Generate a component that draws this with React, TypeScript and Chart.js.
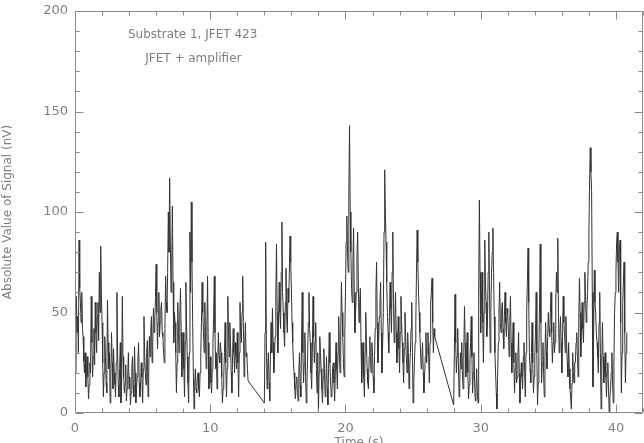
import React, { useEffect, useRef } from 'react';
import { Chart, registerables } from 'chart.js';

Chart.register(...registerables);

// Sampling
const sampleStep = 0.05; // seconds between samples

// Segment A: 0.0 s .. 12.8 s
const segAStart = 0.0;
const segAValues = [
  35, 20, 58, 40, 48, 30, 86, 62, 55, 45, 60, 42, 38, 26, 20, 30, 13, 22, 28, 18,
  7, 14, 25, 20, 58, 35, 18, 28, 42, 24, 55, 40, 30, 48, 55, 36, 70, 50, 83, 60,
  45, 25, 8, 20, 38, 28, 15, 10, 56, 35, 22, 30, 5, 18, 40, 25, 12, 32, 20, 14,
  8, 25, 60, 30, 14, 8, 22, 35, 5, 16, 58, 28, 18, 10, 15, 24, 6, 12, 20, 30,
  12, 18, 4, 10, 22, 28, 14, 8, 33, 20, 5, 12, 18, 26, 35, 15, 8, 14, 25, 18,
  5, 22, 48, 30, 20, 14, 30, 36, 8, 20, 38, 28, 40, 48, 25, 35, 52, 40, 45, 58,
  74, 50, 32, 45, 60, 38, 45, 52, 55, 40, 38, 30, 25, 42, 68, 55, 50, 70, 100, 80,
  117, 85, 60, 72, 103, 65, 35, 50, 45, 30, 10, 25, 55, 40, 30, 48, 62, 40, 18, 30,
  40, 22, 8, 35, 65, 45, 28, 15, 5, 30, 90, 60, 105, 75, 45, 20, 2, 14, 22, 12,
  10, 18, 20, 12, 8, 20, 30, 45, 65, 50, 40, 30, 55, 38, 22, 40, 68, 35, 12, 20,
  28, 15, 10, 22, 35, 48, 68, 40, 22, 30, 12, 25, 40, 28, 25, 35, 30, 18, 5, 12,
  18, 30, 45, 25, 8, 22, 58, 40, 28, 45, 35, 20, 10, 28, 42, 30, 20, 35, 28, 22,
  40, 25, 8, 30, 55, 40, 35, 50, 68, 45, 18, 32, 45, 28, 30, 22, 16,
];

// Segment B: 14.0 s .. 26.6 s
const segBStart = 14.0;
const segBValues = [
  5, 40, 85, 35, 12, 22, 30, 15, 6, 28, 45, 30, 52, 35, 20, 28, 38, 60, 84, 50,
  30, 45, 65, 50, 42, 70, 95, 60, 50, 40, 33, 55, 72, 48, 40, 62, 55, 70, 88, 75,
  62, 45, 35, 25, 20, 12, 7, 15, 18, 10, 6, 20, 30, 14, 8, 35, 60, 30, 15, 25,
  40, 18, 5, 15, 28, 45, 60, 42, 35, 20, 12, 30, 58, 38, 25, 35, 45, 22, 10, 30,
  0, 20, 38, 30, 22, 12, 5, 18, 32, 20, 8, 15, 28, 12, 4, 22, 40, 25, 15, 8,
  10, 22, 25, 15, 6, 20, 35, 22, 12, 30, 48, 30, 20, 40, 65, 50, 38, 25, 18, 40,
  60, 85, 98, 80, 70, 110, 143, 100, 80, 62, 55, 75, 92, 60, 40, 50, 60, 78, 90, 65,
  45, 55, 62, 35, 15, 25, 35, 18, 8, 30, 50, 35, 22, 15, 12, 28, 38, 25, 20, 35,
  30, 18, 10, 28, 42, 60, 75, 45, 25, 35, 48, 55, 65, 40, 20, 35, 50, 90, 121, 100,
  85, 65, 50, 40, 30, 48, 65, 52, 40, 70, 90, 55, 35, 45, 60, 40, 25, 35, 48, 32,
  20, 40, 58, 45, 35, 25, 15, 32, 50, 38, 28, 20, 40, 30, 12, 22, 30, 42, 55, 30,
  5, 15, 25, 35, 45, 70, 91, 75, 60, 50, 40, 30, 22, 28, 35, 20, 10, 18, 28, 40,
  25, 32, 40, 28, 15, 35, 55, 60, 67, 45, 30, 42, 38,
];

// Segment C: 28.0 s .. 40.8 s
const segCStart = 28.0;
const segCValues = [
  4, 30, 59, 35, 20, 28, 42, 25, 8, 15, 30, 22, 35, 18, 12, 30, 53, 35, 18, 25,
  40, 20, 7, 14, 25, 35, 48, 28, 10, 20, 30, 15, 6, 12, 22, 10, 5, 60, 106, 70,
  40, 55, 70, 45, 25, 50, 86, 65, 55, 38, 45, 70, 90, 60, 30, 50, 70, 80, 92, 70,
  48, 30, 20, 10, 2, 18, 35, 50, 65, 45, 40, 52, 55, 42, 32, 48, 60, 45, 38, 52,
  50, 40, 28, 45, 58, 35, 20, 32, 45, 25, 10, 22, 30, 15, 18, 28, 40, 20, 5, 15,
  25, 18, 12, 28, 35, 20, 8, 30, 50, 65, 82, 55, 30, 22, 15, 30, 45, 25, 10, 18,
  28, 40, 60, 30, 4, 15, 30, 55, 84, 45, 15, 25, 35, 20, 8, 28, 45, 30, 22, 38,
  50, 42, 38, 50, 60, 40, 25, 35, 45, 30, 35, 55, 70, 60, 87, 50, 30, 40, 48, 35,
  20, 38, 58, 45, 40, 30, 48, 35, 25, 18, 35, 22, 12, 8, 2, 15, 30, 20, 15, 25,
  25, 35, 40, 28, 18, 45, 67, 50, 28, 40, 55, 42, 35, 55, 70, 58, 45, 52, 60, 75,
  90, 115, 132, 120, 110, 60, 13, 40, 71, 55, 50, 40, 35, 28, 20, 45, 60, 30, 2, 25,
  45, 28, 15, 22, 30, 18, 8, 20, 25, 12, 0, 8, 12, 20, 30, 15, 5, 25, 50, 60,
  70, 85, 90, 75, 60, 80, 86, 45, 10, 30, 55, 65, 75, 40, 15, 30, 40,
];

const xTickValues = [0, 10, 20, 30, 40];
const yTickValues = [0, 50, 100, 150, 200];
const xMin = 0;
const xMax = 42;
const yMin = 0;
const yMax = 200;
const xMinorStep = 2;
const yMinorStep = 10;

const xTitle = 'Time (s)';
const yTitle = 'Absolute Value of Signal (nV)';
const noteLines = ['Substrate 1, JFET 423', 'JFET + amplifier'];
const notePositions = [
  { x: 8.7, y: 188 },
  { x: 8.75, y: 176 },
];

function buildPoints(start: number, values: number[]) {
  return values.map((v, i) => ({ x: Math.round((start + i * sampleStep) * 1000) / 1000, y: v }));
}

const allPoints = [
  ...buildPoints(segAStart, segAValues),
  ...buildPoints(segBStart, segBValues),
  ...buildPoints(segCStart, segCValues),
];

const GRAY = '#8a8a8a';
const TEXT = '#7f7f7f';
const FONT = '"DejaVu Sans", sans-serif';

const framePlugin = {
  id: 'frameTicks',
  afterDraw(chart: any) {
    const { ctx, chartArea: a, scales } = chart;
    const xs = scales.x;
    const ys = scales.y;
    ctx.save();
    ctx.strokeStyle = GRAY;
    ctx.lineWidth = 1;
    const L = Math.round(a.left) + 0.5;
    const R = Math.round(a.right) - 0.5;
    const T = Math.round(a.top) + 0.5;
    const B = Math.round(a.bottom) - 0.5;
    ctx.beginPath();
    ctx.rect(L, T, R - L, B - T);
    ctx.stroke();

    ctx.beginPath();
    for (let v = xMin; v <= xMax + 1e-9; v += xMinorStep) {
      const px = Math.round(xs.getPixelForValue(v)) + 0.5;
      const len = v % 10 === 0 ? 8 : 4;
      ctx.moveTo(px, B);
      ctx.lineTo(px, B - len);
      ctx.moveTo(px, T);
      ctx.lineTo(px, T + len);
    }
    for (let v = yMin; v <= yMax + 1e-9; v += yMinorStep) {
      const py = Math.round(ys.getPixelForValue(v)) + 0.5;
      const len = v % 50 === 0 ? 8 : 4;
      ctx.moveTo(L, py);
      ctx.lineTo(L + len, py);
      ctx.moveTo(R, py);
      ctx.lineTo(R - len, py);
    }
    ctx.stroke();

    ctx.fillStyle = TEXT;
    ctx.font = '12px ' + FONT;
    ctx.textAlign = 'center';
    ctx.textBaseline = 'middle';
    noteLines.forEach((t, i) => {
      const p = notePositions[i];
      ctx.fillText(t, xs.getPixelForValue(p.x), ys.getPixelForValue(p.y));
    });

    ctx.textBaseline = 'top';
    ctx.fillText(xTitle, (a.left + a.right) / 2, a.bottom + 24);

    ctx.translate(8, (a.top + a.bottom) / 2);
    ctx.rotate(-Math.PI / 2);
    ctx.textBaseline = 'middle';
    ctx.fillText(yTitle, 0, 0);
    ctx.restore();
  },
};

export default function App() {
  const canvasRef = useRef<HTMLCanvasElement | null>(null);

  useEffect(() => {
    const canvas = canvasRef.current;
    if (!canvas) return;
    const chart = new Chart(canvas, {
      type: 'line',
      data: {
        datasets: [
          {
            data: allPoints,
            borderColor: '#333333',
            borderWidth: 1,
            pointRadius: 0,
            tension: 0,
            fill: false,
          },
        ],
      },
      options: {
        animation: false,
        responsive: false,
        devicePixelRatio: 1,
        layout: { padding: { top: 11, right: 1, left: 0, bottom: 0 } },
        plugins: { legend: { display: false }, tooltip: { enabled: false } },
        scales: {
          x: {
            type: 'linear',
            min: xMin,
            max: xMax,
            afterBuildTicks: (s: any) => {
              s.ticks = xTickValues.map((v) => ({ value: v }));
            },
            afterFit: (s: any) => {
              s.height = 30;
              s.paddingLeft = 0;
              s.paddingRight = 0;
            },
            grid: { display: false, drawTicks: false },
            border: { display: false },
            ticks: {
              color: TEXT,
              font: { family: FONT, size: 13 },
              padding: 8,
              maxRotation: 0,
              autoSkip: false,
            },
          },
          y: {
            type: 'linear',
            min: yMin,
            max: yMax,
            afterBuildTicks: (s: any) => {
              s.ticks = yTickValues.map((v) => ({ value: v }));
            },
            afterFit: (s: any) => {
              s.width = 75;
              s.paddingTop = 0;
              s.paddingBottom = 0;
            },
            grid: { display: false, drawTicks: false },
            border: { display: false },
            ticks: {
              color: TEXT,
              font: { family: FONT, size: 13 },
              padding: 7,
              autoSkip: false,
            },
          },
        },
      },
      plugins: [framePlugin],
    });
    return () => chart.destroy();
  }, []);

  return (
    <div style={{ position: 'absolute', left: 0, top: 0, width: 644, height: 443, background: '#fff' }}>
      <canvas ref={canvasRef} width={644} height={443} />
    </div>
  );
}
